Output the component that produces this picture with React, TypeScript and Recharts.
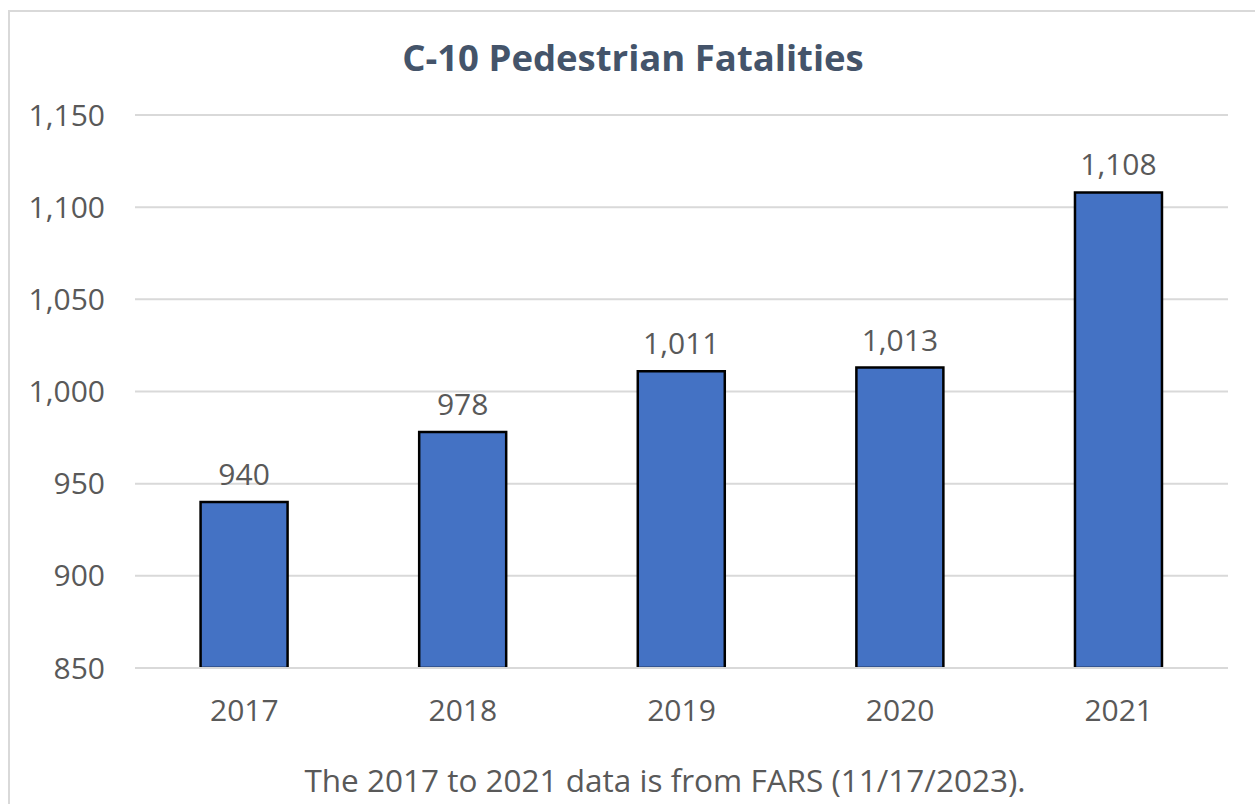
import React from 'react';
import { BarChart, Bar, XAxis, YAxis, CartesianGrid, LabelList } from 'recharts';

const years = ['2017', '2018', '2019', '2020', '2021'];
const fatalities = [940, 978, 1011, 1013, 1108];
const yTicks = [850, 900, 950, 1000, 1050, 1100, 1150];

const data = years.map((y, i) => ({ year: y, value: fatalities[i] }));

const FONT = '"Open Sans", sans-serif';
const TEXT = '#595959';

const fmt = (v: any) => Number(v).toLocaleString('en-US');

export default function App() {
  return (
    <div style={{ position: 'absolute', left: 0, top: 0, width: 1255, height: 804, overflow: 'hidden', background: '#fff' }}>
      <div style={{ position: 'absolute', left: 8, top: 10, width: 1300, height: 900, border: '2px solid #d9d9d9', boxSizing: 'border-box' }} />
      <div style={{ position: 'absolute', left: 0, top: 0 }}>
        <BarChart width={1255} height={804} data={data} margin={{ top: 115, right: 27, left: 0, bottom: 96 }} barCategoryGap="30%">
          <CartesianGrid vertical={false} stroke="#d9d9d9" strokeWidth={2} />
          <XAxis
            dataKey="year"
            height={40}
            axisLine={{ stroke: '#d9d9d9', strokeWidth: 2 }}
            tickLine={false}
            tickSize={0}
            tickMargin={32}
            tick={{ fill: TEXT, fontSize: 30, fontFamily: FONT }}
          />
          <YAxis
            width={135}
            domain={[850, 1150]}
            ticks={yTicks}
            allowDataOverflow
            axisLine={false}
            tickLine={false}
            tickSize={0}
            tickMargin={30}
            tickFormatter={fmt}
            tick={{ fill: TEXT, fontSize: 30, fontFamily: FONT }}
          />
          <Bar dataKey="value" fill="#4472C4" stroke="#000" strokeWidth={2.5} isAnimationActive={false}>
            <LabelList dataKey="value" position="top" offset={17} formatter={fmt} fill={TEXT} fontSize={30} fontFamily={FONT} />
          </Bar>
        </BarChart>
      </div>
      <div style={{ position: 'absolute', left: 0, width: 1266, top: 33, textAlign: 'center', fontFamily: FONT, fontWeight: 700, fontSize: 36.5, color: '#44546A', lineHeight: '48px' }}>
        C-10 Pedestrian Fatalities
      </div>
      <div style={{ position: 'absolute', left: 0, width: 1330, top: 762, textAlign: 'center', fontFamily: FONT, fontSize: 31.5, color: TEXT, lineHeight: '36px' }}>
        The 2017 to 2021 data is from FARS (11/17/2023).
      </div>
    </div>
  );
}
